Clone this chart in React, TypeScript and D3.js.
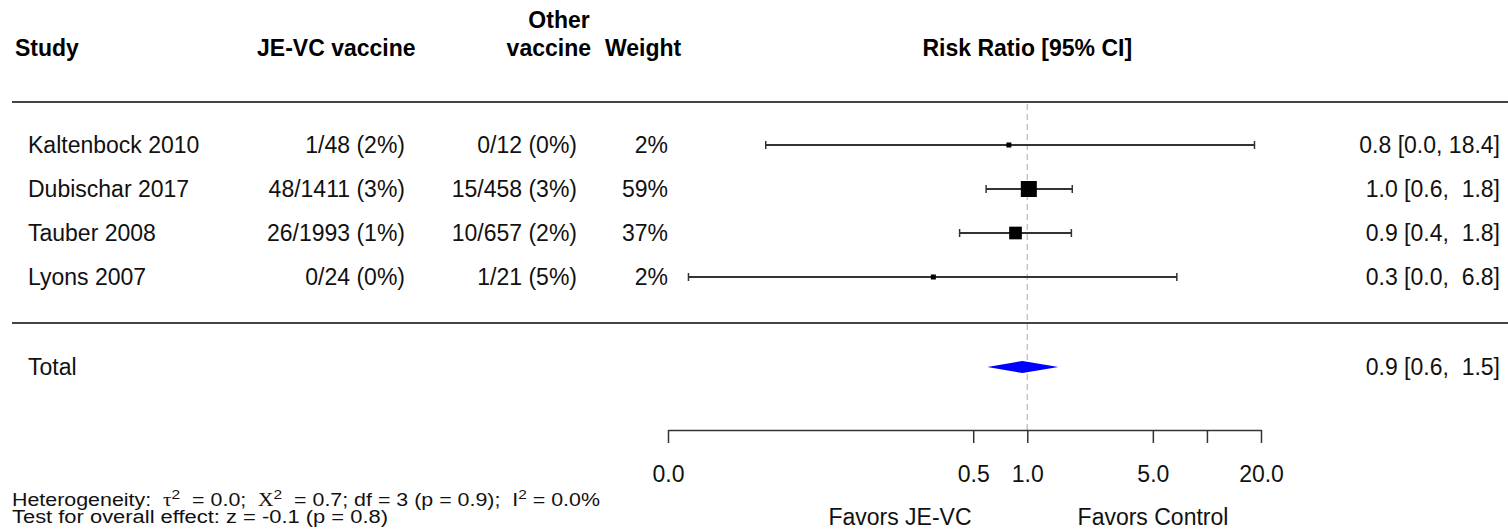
import React, { useRef, useEffect } from "react";
import * as d3 from "d3";

// study rows
const studies = ["Kaltenbock 2010", "Dubischar 2017", "Tauber 2008", "Lyons 2007"];
const jeEvents = [1, 48, 26, 0];
const jeTotals = [48, 1411, 1993, 24];
const otherEvents = [0, 15, 10, 1];
const otherTotals = [12, 458, 657, 21];
const weights = [2, 59, 37, 2];
const riskRatio = [0.79, 1.02, 0.86, 0.3];
const ciLower = [0.035, 0.59, 0.42, 0.013];
const ciUpper = [18.4, 1.78, 1.76, 6.8];

// pooled estimate
const totalRR = 0.94;
const totalLower = 0.6;
const totalUpper = 1.49;

// axis
const tickValues = [0.01, 0.5, 1, 5, 10, 20];
const tickLabels = ["0.0", "0.5", "1.0", "5.0", "", "20.0"];

const W = 1508;
const H = 531;
const FONT = "'Liberation Sans', Arial, sans-serif";
const SERIF = "'Liberation Serif', 'DejaVu Serif', serif";
const NB = "\u00A0";

const pct = (e: number, n: number) => `${e}/${n} (${Math.round((e / n) * 100)}%)`;
const ciText = (m: number, lo: number, hi: number) =>
  `${m.toFixed(1)} [${lo.toFixed(1)},${NB}${hi.toFixed(1).padStart(4, NB)}]`;

const ForestPlot = () => {
  const ref = useRef<HTMLDivElement>(null);

  const draw = (elt: HTMLDivElement) => {
    d3.select(elt).select("svg").remove();

    const svg = d3
      .select(elt)
      .append("svg")
      .attr("width", W)
      .attr("height", H)
      .style("display", "block")
      .style("font-family", FONT);

    svg.append("rect").attr("width", W).attr("height", H).attr("fill", "#fff");

    const x = d3.scaleLog().domain([0.01, 20]).range([668, 1261]);
    const y = d3.scaleBand<number>().domain(d3.range(studies.length)).range([123, 299]);
    const rowY = (i: number) => (y(i) as number) + y.bandwidth() / 2;
    const yTotal = 367;
    const yAxis = 430;
    const boxSize = d3.scaleSqrt().domain([0, 59]).range([0, 16]);

    // header
    const head = svg.append("g").attr("font-weight", "bold").attr("font-size", 23).attr("fill", "#000");
    head.append("text").attr("x", 15).attr("y", 56).text("Study");
    head.append("text").attr("x", 257).attr("y", 56).text("JE-VC vaccine");
    head.append("text").attr("x", 559).attr("y", 28).attr("text-anchor", "middle").text("Other");
    head.append("text").attr("x", 591).attr("y", 56).attr("text-anchor", "end").text("vaccine");
    head.append("text").attr("x", 605).attr("y", 56).text("Weight");
    head.append("text").attr("x", x(1)).attr("y", 56).attr("text-anchor", "middle").text("Risk Ratio [95% CI]");

    // rules
    [102, 323].forEach((yy) =>
      svg.append("line").attr("x1", 12).attr("x2", W).attr("y1", yy).attr("y2", yy)
        .attr("stroke", "#444").attr("stroke-width", 2)
    );

    // reference line
    svg.append("line")
      .attr("x1", x(1)).attr("x2", x(1)).attr("y1", 104).attr("y2", yAxis)
      .attr("stroke", "#c4c4c4").attr("stroke-width", 1.5).attr("stroke-dasharray", "6,4");

    // row text
    const rows = svg.append("g").attr("font-size", 23).attr("fill", "#111").attr("dominant-baseline", "central");
    studies.forEach((s, i) => {
      const cy = rowY(i);
      rows.append("text").attr("x", 28).attr("y", cy).text(s);
      rows.append("text").attr("x", 405).attr("y", cy).attr("text-anchor", "end").text(pct(jeEvents[i], jeTotals[i]));
      rows.append("text").attr("x", 577).attr("y", cy).attr("text-anchor", "end").text(pct(otherEvents[i], otherTotals[i]));
      rows.append("text").attr("x", 668).attr("y", cy).attr("text-anchor", "end").text(`${weights[i]}%`);
      rows.append("text").attr("x", 1500).attr("y", cy).attr("text-anchor", "end")
        .text(ciText(riskRatio[i], ciLower[i], ciUpper[i]));
    });
    rows.append("text").attr("x", 28).attr("y", yTotal).text("Total");
    rows.append("text").attr("x", 1500).attr("y", yTotal).attr("text-anchor", "end")
      .text(ciText(totalRR, totalLower, totalUpper));

    // CI whiskers and boxes
    const marks = svg.append("g");
    studies.forEach((_, i) => {
      const cy = rowY(i);
      marks.append("line").attr("x1", x(ciLower[i])).attr("x2", x(ciUpper[i]))
        .attr("y1", cy).attr("y2", cy).attr("stroke", "#333").attr("stroke-width", 2);
      [ciLower[i], ciUpper[i]].forEach((v) =>
        marks.append("line").attr("x1", x(v)).attr("x2", x(v)).attr("y1", cy - 4).attr("y2", cy + 4)
          .attr("stroke", "#333").attr("stroke-width", 1.5)
      );
      const s = Math.max(5, boxSize(weights[i]));
      marks.append("rect").attr("x", x(riskRatio[i]) - s / 2).attr("y", cy - s / 2)
        .attr("width", s).attr("height", s).attr("fill", "#000");
    });

    // pooled diamond
    const dh = 6;
    marks.append("path")
      .attr("d", `M${x(totalLower)},${yTotal}L${x(totalRR)},${yTotal - dh}L${x(totalUpper)},${yTotal}L${x(totalRR)},${yTotal + dh}Z`)
      .attr("fill", "#0000ff");

    // axis
    const axis = svg.append("g").attr("transform", `translate(0,${yAxis})`)
      .call(d3.axisBottom(x).tickValues(tickValues).tickSize(13).tickSizeOuter(0)
        .tickFormat((_, i) => tickLabels[i]));
    axis.select(".domain").attr("stroke", "#333").attr("stroke-width", 1.5);
    axis.selectAll(".tick line").attr("stroke", "#333").attr("stroke-width", 1.5);
    axis.selectAll(".tick text").attr("font-family", FONT).attr("font-size", 23)
      .attr("fill", "#111").attr("y", 52).attr("dy", 0);

    const lab = svg.append("g").attr("font-size", 23).attr("fill", "#111").attr("text-anchor", "middle");
    lab.append("text").attr("x", 900).attr("y", 525).text("Favors JE-VC");
    lab.append("text").attr("x", 1153).attr("y", 525).text("Favors Control");

    // heterogeneity footnote
    const foot = svg.append("g").attr("font-size", 18).attr("fill", "#111");
    const t1 = foot.append("text").attr("x", 12).attr("y", 506)
      .attr("textLength", 588).attr("lengthAdjust", "spacingAndGlyphs");
    t1.append("tspan").text(`Heterogeneity:${NB}${NB}`);
    t1.append("tspan").attr("font-family", SERIF).text("τ");
    t1.append("tspan").attr("dy", -7).attr("font-size", 13).text("2");
    t1.append("tspan").attr("dy", 7).text(`${NB}${NB}=${NB}0.0;${NB}${NB}`);
    t1.append("tspan").attr("font-family", SERIF).text("Χ");
    t1.append("tspan").attr("dy", -7).attr("font-size", 13).text("2");
    t1.append("tspan").attr("dy", 7).text(`${NB}${NB}= 0.7; df = 3 (p = 0.9);${NB}${NB}I`);
    t1.append("tspan").attr("dy", -7).attr("font-size", 13).text("2");
    t1.append("tspan").attr("dy", 7).text(" = 0.0%");
    foot.append("text").attr("x", 12).attr("y", 523)
      .attr("textLength", 376).attr("lengthAdjust", "spacingAndGlyphs")
      .text("Test for overall effect: z = -0.1 (p = 0.8)");
  };

  useEffect(() => {
    document.body.style.margin = "0";
    if (ref.current) draw(ref.current);
  }, []);

  return <div ref={ref} style={{ width: W, height: H }} />;
};

export default function App() {
  return <ForestPlot />;
}
